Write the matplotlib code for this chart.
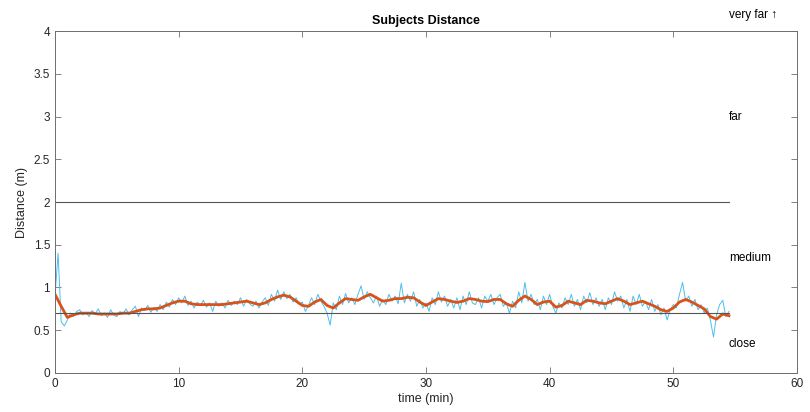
#!/usr/bin/env python3
# -*- coding: utf-8 -*-
import numpy as np
import matplotlib
matplotlib.use("Agg")
import matplotlib.pyplot as plt

#===================================================================================#
## data
raw_step = 0.25                 # minutes between raw samples
raw_dist = [
    0.90, 1.40, 0.60, 0.55, 0.62, 0.70, 0.66, 0.72,
    0.74, 0.68, 0.71, 0.66, 0.73, 0.69, 0.75, 0.67,
    0.70, 0.65, 0.74, 0.68, 0.66, 0.72, 0.69, 0.75,
    0.68, 0.74, 0.78, 0.66, 0.76, 0.73, 0.79, 0.71,
    0.77, 0.72, 0.80, 0.74, 0.83, 0.77, 0.86, 0.80,
    0.88, 0.82, 0.90, 0.79, 0.84, 0.76, 0.83, 0.79,
    0.85, 0.77, 0.82, 0.72, 0.84, 0.78, 0.82, 0.76,
    0.85, 0.79, 0.84, 0.80, 0.88, 0.78, 0.86, 0.81,
    0.78, 0.84, 0.76, 0.83, 0.88, 0.79, 0.92, 0.84,
    0.97, 0.86, 0.95, 0.87, 0.92, 0.83, 0.88, 0.80,
    0.83, 0.72, 0.79, 0.88, 0.80, 0.92, 0.84, 0.78,
    0.70, 0.56, 0.82, 0.74, 0.90, 0.80, 0.93, 0.82,
    0.88, 0.80, 0.92, 1.02, 0.86, 0.95, 0.88, 0.82,
    0.90, 0.78, 0.86, 0.80, 0.92, 0.84, 0.90, 0.81,
    1.05, 0.82, 0.92, 0.84, 0.95, 0.78, 0.86, 0.76,
    0.82, 0.72, 0.88, 0.80, 0.95, 0.83, 0.90, 0.78,
    0.86, 0.76, 0.88, 0.74, 0.90, 0.80, 0.95, 0.82,
    0.80, 0.88, 0.76, 0.90, 0.84, 0.92, 0.80, 0.88,
    0.92, 0.78, 0.82, 0.70, 0.84, 0.76, 0.95, 0.82,
    1.06, 0.84, 0.92, 0.80, 0.86, 0.74, 0.90, 0.80,
    0.92, 0.78, 0.70, 0.82, 0.76, 0.88, 0.80, 0.92,
    0.78, 0.86, 0.74, 0.90, 0.82, 0.94, 0.80, 0.88,
    0.78, 0.86, 0.74, 0.88, 0.80, 0.95, 0.84, 0.90,
    0.76, 0.86, 0.72, 0.90, 0.80, 0.92, 0.78, 0.84,
    0.74, 0.86, 0.72, 0.80, 0.68, 0.76, 0.62, 0.74,
    0.80, 0.76, 0.92, 1.06, 0.84, 0.90, 0.78, 0.86,
    0.74, 0.80, 0.70, 0.76, 0.62, 0.42, 0.68, 0.80,
    0.85, 0.66, 0.72,
]
smooth_step = 0.5               # minutes between smoothed samples
smooth_dist = [
    0.92, 0.78, 0.65, 0.68, 0.70, 0.70, 0.70, 0.69, 0.69, 0.69,
    0.69, 0.70, 0.70, 0.72, 0.74, 0.75, 0.75, 0.76, 0.79, 0.82,
    0.84, 0.84, 0.81, 0.80, 0.80, 0.80, 0.80, 0.80, 0.81, 0.82,
    0.83, 0.84, 0.82, 0.80, 0.82, 0.86, 0.89, 0.91, 0.89, 0.84,
    0.79, 0.78, 0.83, 0.86, 0.79, 0.76, 0.82, 0.87, 0.86, 0.85,
    0.89, 0.92, 0.88, 0.84, 0.85, 0.87, 0.87, 0.885, 0.88, 0.83,
    0.79, 0.83, 0.87, 0.86, 0.84, 0.825, 0.84, 0.87, 0.86, 0.84,
    0.835, 0.86, 0.86, 0.81, 0.78, 0.85, 0.90, 0.86, 0.80, 0.83,
    0.84, 0.77, 0.79, 0.84, 0.82, 0.80, 0.85, 0.84, 0.82, 0.81,
    0.84, 0.87, 0.84, 0.80, 0.82, 0.84, 0.81, 0.78, 0.74, 0.72,
    0.76, 0.83, 0.86, 0.83, 0.79, 0.75, 0.66, 0.63, 0.69, 0.67,
]
zone_limits = [0.7, 2.0]
zone_names = ["very far \u2191", "far", "medium", "close"]
zone_name_y = [4.19, 3.0, 1.35, 0.34]

#===================================================================================#
## plot parameters
fs_tick = 8.5
txt_col = '#262626'
ax_col = '#6e6e6e'
plt.rcParams['font.family'] = ['Liberation Sans', 'DejaVu Sans']

def Distance_Plot():
    t_raw = np.arange(len(raw_dist)) * raw_step
    t_smooth = np.arange(len(smooth_dist)) * smooth_step
    t_end = t_raw[-1]

    fig = plt.figure(figsize=(8.1, 4.12), dpi=100)
    ax = fig.add_axes([0.0679, 0.0947, 0.916, 0.830])

    ax.plot(t_raw, raw_dist, color='#4DBEEE', linewidth=0.7)
    ax.plot(t_smooth, smooth_dist, color='#D95319', linewidth=2.0)
    for lim in zone_limits:
        ax.plot([0, t_end], [lim, lim], color='#555555', linewidth=0.8)

    for name, ypos in zip(zone_names, zone_name_y):
        ax.text(t_end, ypos, name, fontsize=fs_tick, color='black',
                ha='left', va='center', clip_on=False)

    ax.set_xlim(0, 60)
    ax.set_ylim(0, 4)
    ax.set_xticks(np.arange(0, 61, 10))
    ax.set_yticks(np.arange(0, 4.01, 0.5))
    ax.set_yticklabels(['0', '0.5', '1', '1.5', '2', '2.5', '3', '3.5', '4'])
    ax.tick_params(direction='in', length=4, width=0.6, colors=ax_col,
                   labelcolor=txt_col, labelsize=fs_tick,
                   top=True, right=True)
    for sp in ax.spines.values():
        sp.set_color(ax_col)
        sp.set_linewidth(0.7)

    ax.set_title("Subjects Distance", fontsize=9, fontweight='bold', color='black', pad=5)
    ax.set_xlabel("time (min)", fontsize=9, color=txt_col, labelpad=2)
    ax.set_ylabel("Distance (m)", fontsize=9, color=txt_col, labelpad=4)

    fig.savefig("out.png", dpi=100)

#===================================================================================#
if __name__ == '__main__':
    Distance_Plot()
